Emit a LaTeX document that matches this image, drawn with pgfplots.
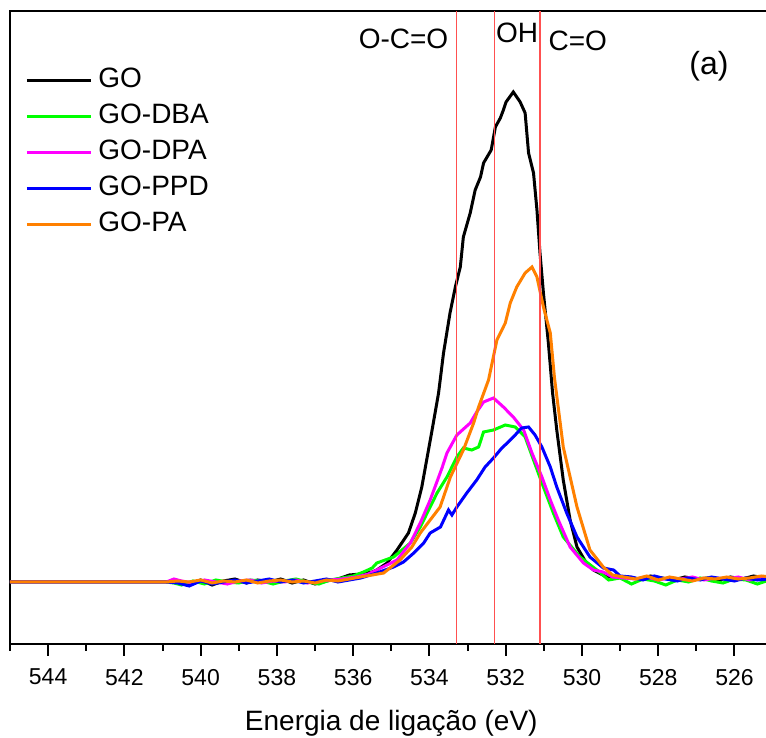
\documentclass[border=0pt]{standalone}
\usepackage{fontspec}
\setmainfont{Liberation Sans}
\usepackage{pgfplots}
\pgfplotsset{compat=1.18}
\definecolor{cdba}{RGB}{0,255,0}
\definecolor{cdpa}{RGB}{255,0,255}
\definecolor{cppd}{RGB}{0,0,255}
\definecolor{cpa}{RGB}{255,128,0}
\definecolor{cref}{RGB}{255,80,80}
\begin{document}
\begin{tikzpicture}
\begin{axis}[
    name=ax, scale only axis,
    width=381.3pt, height=316.5pt,
    x dir=reverse,
    xmin=525, xmax=545, ymin=-62, ymax=571,
    xtick={526,528,...,544}, minor xtick={525,527,...,545},
    ytick=\empty,
    xtick pos=bottom, tick align=outside,
    major tick length=6pt, minor tick length=3.5pt,
    every tick/.style={black, line width=1pt},
    axis line style={line width=1pt},
    tick label style={font=\fontsize{11.5}{13}\selectfont},
    xticklabel style={yshift=-3pt},
    /pgf/number format/assume math mode=true,
    /pgf/number format/1000 sep={},
    xlabel={Energia de ligação (eV)},
    xlabel style={font=\fontsize{14}{16}\selectfont, at={(axis description cs:0.5,0)}, anchor=base, yshift=-43.5pt},
    legend style={draw=none, fill=none, at={(axis description cs:0,1)}, anchor=north west,
      xshift=7.5pt, yshift=-27pt, inner sep=0pt,
      font=\fontsize{14}{16}\selectfont,
      nodes={inner sep=1pt, text height=10pt, text depth=3pt},
      row sep=3pt, column sep=2pt},
    legend cell align=left,
    legend image code/.code={\draw[#1] (0pt,0pt) -- (32pt,0pt);},
    every axis plot/.append style={line width=1.5pt},
  ]
  % GO
  \addplot[black] coordinates {(545,0) (540.9,0) (540.6,1) (540.3,-2) (540.0,2) (539.7,-3) (539.4,1) (539.1,3) (538.8,-1) (538.5,2) (538.2,0) (537.9,3) (537.6,-1) (537.3,2) (537.0,-2) (536.7,1) (536.4,3) (536.1,7) (535.8,8) (535.5,10) (535.38,12) (535.11,19) (534.85,32) (534.55,49) (534.37,69) (534.20,95) (533.93,152) (533.76,189) (533.63,229) (533.46,269) (533.32,295) (533.19,315) (533.11,345) (532.93,369) (532.80,392) (532.66,405) (532.58,419) (532.38,432) (532.27,455) (532.14,464) (532.06,472) (531.99,480) (531.80,490) (531.62,480) (531.49,469) (531.40,429) (531.27,409) (531.18,372) (531.10,329) (531.01,289) (530.88,239) (530.77,189) (530.66,152) (530.49,102) (530.31,62) (530.13,35) (529.9,20) (529.7,12) (529.4,6) (529.1,4) (528.8,5) (528.5,3) (528.2,6) (527.9,4) (527.6,2) (527.3,5) (527.0,3) (526.7,4) (526.4,2) (526.1,5) (525.8,3) (525.5,6) (525.2,4) (525,5)};
  \addlegendentry{GO}
  % GO-DBA
  \addplot[cdba] coordinates {(545,0) (540.9,0) (540.7,-1) (540.5,-3) (540.2,1) (539.9,-2) (539.6,2) (539.3,0) (539.0,-1) (538.7,2) (538.4,1) (538.1,-2) (537.8,1) (537.5,3) (537.2,0) (536.9,-2) (536.6,2) (536.3,4) (536.0,6) (535.73,10) (535.5,14) (535.38,19) (534.94,25) (534.50,39) (534.24,55) (534.02,72) (533.80,89) (533.54,105) (533.28,125) (533.11,134) (532.89,132) (532.71,135) (532.58,150) (532.32,152) (532.01,157) (531.75,155) (531.49,145) (531.27,122) (531.01,95) (530.75,69) (530.49,45) (530.05,25) (529.61,12) (529.3,2) (529.0,4) (528.7,-2) (528.4,3) (528.1,1) (527.8,-3) (527.5,2) (527.2,0) (526.9,4) (526.6,1) (526.3,-1) (526.0,3) (525.7,2) (525.4,-2) (525,3)};
  \addlegendentry{GO-DBA}
  % GO-DPA
  \addplot[cdpa] coordinates {(545,0) (540.9,0) (540.7,3) (540.5,1) (540.2,-1) (539.9,2) (539.6,0) (539.3,-2) (539.0,1) (538.7,2) (538.4,-1) (538.1,1) (537.8,0) (537.5,2) (537.2,-1) (536.9,1) (536.6,2) (536.3,3) (535.90,5) (535.6,8) (535.38,12) (534.85,22) (534.50,39) (534.24,59) (533.98,82) (533.67,114) (533.54,129) (533.28,147) (532.93,159) (532.76,170) (532.58,180) (532.32,184) (532.06,175) (531.80,165) (531.53,152) (531.31,129) (531.05,105) (530.83,82) (530.62,62) (530.31,35) (529.96,19) (529.7,12) (529.44,10) (529.2,5) (528.9,4) (528.6,3) (528.3,5) (528.0,2) (527.7,4) (527.4,3) (527.1,5) (526.8,2) (526.5,4) (526.2,3) (525.9,5) (525.6,2) (525.3,4) (525,3)};
  \addlegendentry{GO-DPA}
  % GO-PPD
  \addplot[cppd] coordinates {(545,0) (540.9,0) (540.6,-1) (540.3,-4) (540.0,1) (539.7,-2) (539.4,0) (539.1,2) (538.8,-1) (538.5,1) (538.2,3) (537.9,0) (537.6,2) (537.3,-1) (537.0,1) (536.7,3) (536.4,0) (536.1,2) (535.8,4) (535.38,9) (534.94,15) (534.68,20) (534.41,29) (534.15,39) (533.98,49) (533.71,55) (533.50,72) (533.41,67) (533.28,75) (533.02,89) (532.76,102) (532.54,115) (532.32,124) (532.10,134) (531.93,140) (531.80,145) (531.58,154) (531.40,155) (531.23,147) (531.05,135) (530.83,115) (530.66,95) (530.40,69) (530.13,45) (529.79,25) (529.44,14) (529.17,12) (529.0,6) (528.7,5) (528.4,2) (528.1,6) (527.8,3) (527.5,1) (527.2,4) (526.9,2) (526.6,5) (526.3,3) (526.0,1) (525.7,4) (525.4,2) (525,3)};
  \addlegendentry{GO-PPD}
  % GO-PA
  \addplot[cpa] coordinates {(545,0) (540.9,0) (540.6,1) (540.3,0) (540.0,2) (539.7,-1) (539.4,1) (539.1,0) (538.8,2) (538.5,-1) (538.2,1) (537.9,2) (537.6,0) (537.3,1) (537.0,-1) (536.7,2) (536.4,1) (536.1,3) (535.81,5) (535.5,7) (535.20,9) (534.77,22) (534.46,35) (534.24,49) (533.98,62) (533.72,75) (533.45,105) (533.11,132) (532.84,159) (532.71,175) (532.45,202) (532.23,242) (532.01,259) (531.88,279) (531.71,295) (531.49,309) (531.31,315) (531.18,305) (531.01,275) (530.83,249) (530.72,204) (530.49,135) (530.13,75) (529.79,32) (529.44,15) (529.2,7) (528.9,5) (528.6,3) (528.3,6) (528.0,2) (527.7,5) (527.4,3) (527.1,1) (526.8,4) (526.5,3) (526.2,5) (525.9,3) (525.6,4) (525.3,6) (525,5)};
  \addlegendentry{GO-PA}
  % reference lines
  \addplot[cref, line width=0.6pt, forget plot] coordinates {(533.29,-62) (533.29,571)};
  \addplot[cref, line width=0.6pt, forget plot] coordinates {(532.29,-62) (532.29,571)};
  \addplot[cref, line width=0.6pt, forget plot] coordinates {(531.10,-62) (531.10,571)};
  \node[font=\fontsize{14}{16}\selectfont] at (axis cs:534.68,543) {O-C=O};
  \node[font=\fontsize{14}{16}\selectfont] at (axis cs:531.70,549.5) {OH};
  \node[font=\fontsize{14}{16}\selectfont] at (axis cs:530.11,541) {C=O};
  \node[font=\fontsize{16}{18}\selectfont] at (axis cs:526.67,516) {(a)};
\end{axis}
\pgfresetboundingbox
\path[use as bounding box] ([shift={(-5pt,-47pt)}]ax.south west) rectangle ([shift={(-3.3pt,5.5pt)}]ax.north east);
\end{tikzpicture}
\end{document}
